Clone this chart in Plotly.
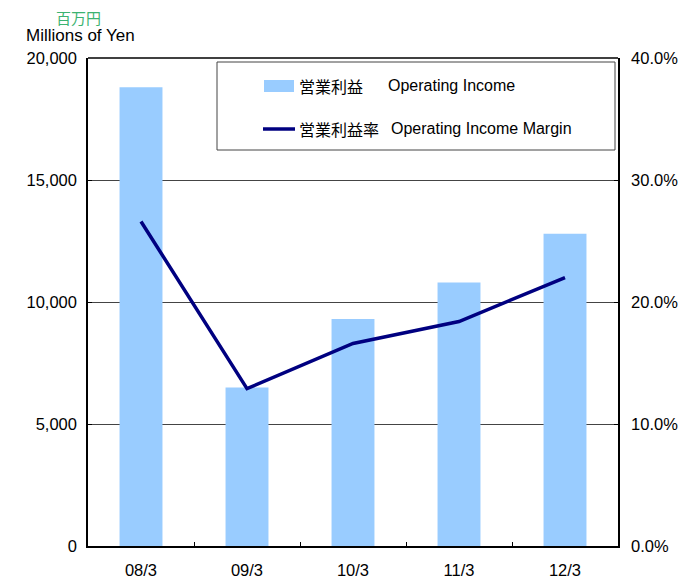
import plotly.graph_objects as go

# --- Data
periods = ["08/3", "09/3", "10/3", "11/3", "12/3"]
operating_income = [18800, 6500, 9300, 10800, 12800]      # 百万円
operating_margin = [26.6, 12.9, 16.6, 18.4, 22.0]        # %

left_ticks = [0, 5000, 10000, 15000, 20000]
left_labels = ["0", "5,000", "10,000", "15,000", "20,000"]
right_ticks = [0, 10, 20, 30, 40]
right_labels = ["0.0%", "10.0%", "20.0%", "30.0%", "40.0%"]

FONT = "Liberation Sans, Arial, Noto Sans CJK JP, sans-serif"
BAR_COLOR = "#99CCFF"
LINE_COLOR = "#000080"

# plot area in page pixels (page has 8px body margin)
PX0, PX1, PY0, PY1 = 88, 618, 58, 546


def px(x):
    return (x - PX0) / (PX1 - PX0)


def py(y):
    return (PY1 - y) / (PY1 - PY0)


fig = go.Figure()
fig.add_trace(go.Bar(
    x=periods, y=operating_income, marker_color=BAR_COLOR, marker_line_width=0,
    name="Operating Income", yaxis="y",
))
fig.add_trace(go.Scatter(
    x=periods, y=operating_margin, mode="lines", line=dict(color=LINE_COLOR, width=3.5),
    name="Operating Income Margin", yaxis="y2",
))

tick_font = dict(size=16.5, family=FONT, color="black")

fig.update_layout(
    width=689, height=573,
    margin=dict(l=PX0 - 8, r=697 - PX1, t=PY0 - 8, b=581 - PY1),
    paper_bgcolor="white", plot_bgcolor="white",
    font=dict(family=FONT, size=16, color="black"),
    bargap=0.595,
    showlegend=False,
    xaxis=dict(
        type="category", showline=True, linecolor="black", linewidth=1.5,
        ticks="inside", ticklen=4, tickcolor="black", tickson="boundaries",
        showgrid=False, ticklabelstandoff=8, automargin=False, tickfont=tick_font,
    ),
    yaxis=dict(
        range=[0, 20000], tickvals=left_ticks, ticktext=left_labels,
        showline=True, linecolor="black", linewidth=1.5,
        ticks="inside", ticklen=4, tickcolor="black",
        showgrid=True, gridcolor="#444444", gridwidth=1,
        zeroline=False, ticklabelstandoff=6, automargin=False, tickfont=tick_font,
    ),
    yaxis2=dict(
        range=[0, 40], tickvals=right_ticks, ticktext=right_labels,
        overlaying="y", side="right",
        showline=True, linecolor="black", linewidth=1.5,
        ticks="inside", ticklen=4, tickcolor="black",
        showgrid=False, zeroline=False, ticklabelstandoff=8, automargin=False,
        tickfont=tick_font,
    ),
)

# top border of plot area
fig.add_shape(type="line", xref="paper", yref="paper", x0=0, x1=1, y0=1, y1=1,
              line=dict(color="black", width=1.5))

# legend box
fig.add_shape(type="rect", xref="paper", yref="paper",
              x0=px(217), x1=px(615), y0=py(150), y1=py(62),
              line=dict(color="#444444", width=1), fillcolor="white", layer="above")
# legend swatches
fig.add_shape(type="rect", xref="paper", yref="paper",
              x0=px(264), x1=px(294), y0=py(92), y1=py(80),
              line=dict(width=0), fillcolor=BAR_COLOR, layer="above")
fig.add_shape(type="line", xref="paper", yref="paper",
              x0=px(263), x1=px(295), y0=py(129), y1=py(129),
              line=dict(color=LINE_COLOR, width=3.5), layer="above")
# legend texts
legend_rows = [
    ("営業利益", "Operating Income", 86, 386),
    ("営業利益率", "Operating Income Margin", 129, 389),
]
for jp, en, y, xen in legend_rows:
    fig.add_annotation(text=jp, xref="paper", yref="paper", x=px(297), y=py(y),
                       xanchor="left", yanchor="middle", showarrow=False,
                       font=dict(size=16, family="Noto Sans CJK JP"))
    fig.add_annotation(text=en, xref="paper", yref="paper", x=px(xen), y=py(y),
                       xanchor="left", yanchor="middle", showarrow=False,
                       font=dict(size=16))

# unit labels
fig.add_annotation(text="百万円", xref="paper", yref="paper",
                   x=px(78), y=py(18), xanchor="center", yanchor="middle",
                   showarrow=False, borderpad=0,
                   font=dict(size=15, color="#3CB371", family="Noto Sans CJK JP"))
fig.add_annotation(text="Millions of Yen", xref="paper", yref="paper",
                   x=px(80), y=py(36), xanchor="center", yanchor="middle",
                   showarrow=False,
                   font=dict(size=17, color="black"))

fig.write_html("out.html")
